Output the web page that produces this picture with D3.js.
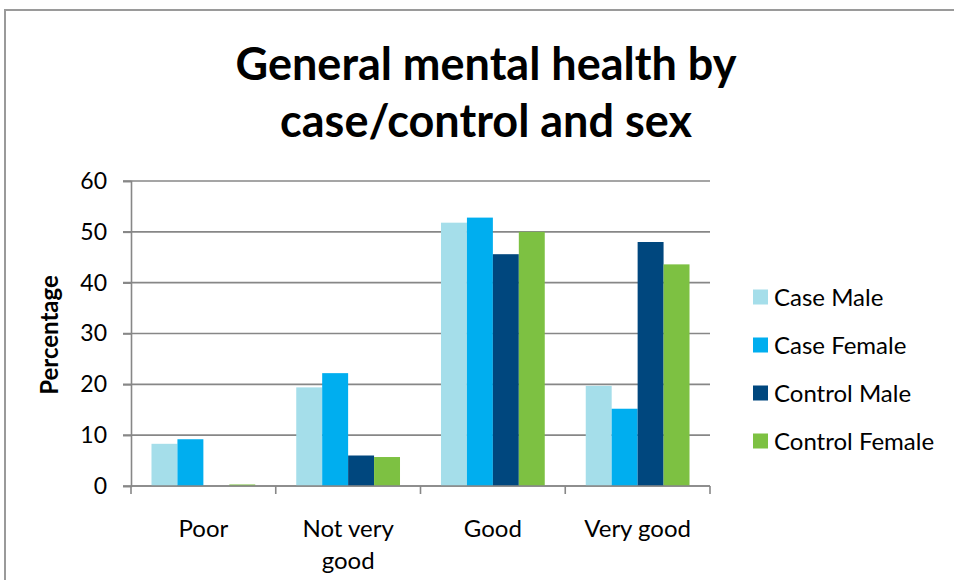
<!DOCTYPE html>
<html><head><meta charset="utf-8">
<script src="https://cdn.jsdelivr.net/npm/d3@7"></script>
<style>
html,body{margin:0;padding:0;background:#fff;}
svg{display:block;}
text{font-family:Lato,"Open Sans",sans-serif;fill:#000;}
</style></head>
<body>
<script>
const categories = ["Poor", "Not very good", "Good", "Very good"];
const seriesNames = ["Case Male", "Case Female", "Control Male", "Control Female"];
const caseMale = [8.3, 19.4, 51.8, 19.7];
const caseFemale = [9.2, 22.2, 52.8, 15.2];
const controlMale = [0, 6.0, 45.6, 48.0];
const controlFemale = [0.3, 5.7, 50.0, 43.6];
const yTicks = [0, 10, 20, 30, 40, 50, 60];
const colors = ["#A5DEEA", "#00AEEF", "#00477E", "#7DC142"];
const titleLines = ["General mental health by", "case/control and sex"];
const yLabel = "Percentage";

const seriesValues = [caseMale, caseFemale, controlMale, controlFemale];
const W = 954, H = 580;
const svg = d3.select("body").append("svg").attr("width", W).attr("height", H);

// outer chart border
svg.append("rect").attr("x", 5).attr("y", 10).attr("width", 1000).attr("height", 700)
  .attr("fill", "none").attr("stroke", "#9a9a9a").attr("stroke-width", 2);

const pL = 131, pR = 710, pT = 181, pB = 486;
const x = d3.scaleBand().domain(categories).range([pL, pR]).paddingInner(0).paddingOuter(0);
const x1 = d3.scaleBand().domain(seriesNames).range([0, x.bandwidth()]).paddingOuter(0.79).paddingInner(0);
const y = d3.scaleLinear().domain([0, 60]).range([pB, pT]);

// gridlines
const grid = svg.append("g");
grid.selectAll("line").data(yTicks).join("line")
  .attr("x1", pL - 8).attr("x2", pR)
  .attr("y1", d => y(d)).attr("y2", d => y(d))
  .attr("stroke", "#878787").attr("stroke-width", 1.6);

// y axis
const yAxis = svg.append("g").attr("transform", `translate(${pL},0)`)
  .call(d3.axisLeft(y).tickValues(yTicks).tickSize(8).tickPadding(16));
yAxis.select(".domain").attr("stroke", "#878787").attr("stroke-width", 1.6);
yAxis.selectAll(".tick line").attr("stroke", "#878787").attr("stroke-width", 1.6);
yAxis.selectAll(".tick text").attr("font-size", 23).attr("font-family", "Lato").attr("fill", "#000");

// bars
const groups = svg.append("g").selectAll("g").data(seriesNames).join("g")
  .attr("fill", (d, i) => colors[i]);
groups.selectAll("rect").data((s, si) => categories.map((c, ci) => ({c, s, v: seriesValues[si][ci]})))
  .join("rect")
  .attr("x", d => x(d.c) + x1(d.s))
  .attr("width", x1.bandwidth())
  .attr("y", d => y(d.v))
  .attr("height", d => y(0) - y(d.v));

// x axis
const xAxis = svg.append("g").attr("transform", `translate(0,${pB})`)
  .call(d3.axisBottom(x).tickSize(0).tickPadding(0));
xAxis.select(".domain").remove();
xAxis.append("line").attr("x1", pL).attr("x2", pR).attr("y1", 0).attr("y2", 0)
  .attr("stroke", "#878787").attr("stroke-width", 1.6);
const bounds = categories.map(c => x(c)).concat([pR]);
xAxis.selectAll(".bnd").data(bounds).join("line").attr("class", "bnd")
  .attr("x1", d => d).attr("x2", d => d).attr("y1", 0).attr("y2", 8)
  .attr("stroke", "#878787").attr("stroke-width", 1.6);
xAxis.selectAll(".tick text").each(function(d) {
  const t = d3.select(this);
  t.text(null).attr("font-size", 24).attr("font-family", "Lato").attr("fill", "#000")
   .attr("y", 0).attr("dy", null);
  const words = d.split(" ");
  const lines = words.length > 2 ? [words.slice(0, 2).join(" "), words.slice(2).join(" ")] : [d];
  lines.forEach((ln, i) => t.append("tspan").attr("x", 0).attr("y", 51 + i * 32).text(ln));
});

// y label
svg.append("text").attr("transform", "translate(58,335) rotate(-90)")
  .attr("text-anchor", "middle").attr("font-size", 24).attr("font-weight", "bold").text(yLabel);

// title
svg.append("g").selectAll("text").data(titleLines).join("text")
  .attr("x", 486).attr("y", (d, i) => 80 + i * 57)
  .attr("text-anchor", "middle").attr("font-size", 45).attr("font-weight", "bold").text(d => d);

// legend
const leg = svg.append("g").selectAll("g").data(seriesNames).join("g")
  .attr("transform", (d, i) => `translate(753,${297 + i * 48})`);
leg.append("rect").attr("x", 0).attr("y", -7.5).attr("width", 15).attr("height", 15)
  .attr("fill", (d, i) => colors[i]);
leg.append("text").attr("x", 21).attr("y", 0).attr("dy", "0.36em")
  .attr("font-size", 24).text(d => d);
</script>
</body></html>
